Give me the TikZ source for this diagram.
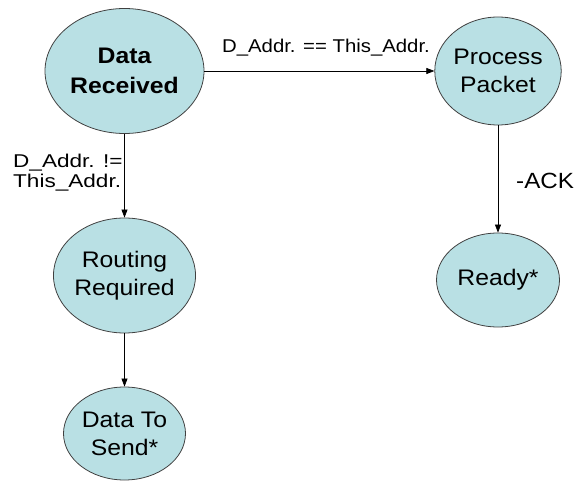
\documentclass[tikz,border=0pt]{standalone}
\usepackage{fontspec}
\setmainfont{Liberation Sans}[FakeStretch=1.1]
\newfontfamily\widefont{Liberation Sans}[FakeStretch=1.22]
\usetikzlibrary{shapes.geometric,arrows.meta}
\definecolor{statefill}{HTML}{B9E0E4}
\definecolor{stateline}{HTML}{404040}
\tikzset{
  state/.style={ellipse, draw=stateline, line width=0.8pt, fill=statefill, inner sep=0pt, align=center,
    font=\fontsize{22.5}{28}\selectfont},
  lbl/.style={inner sep=0pt, font=\fontsize{18.5}{20}\selectfont},
  conn/.style={draw=black, line width=0.7pt, -{Triangle[length=8pt,width=6pt]}}
}
\begin{document}
\begin{tikzpicture}[x=1pt,y=-1pt]
\useasboundingbox (0,0) rectangle (581,481);
\node[state, minimum width=159pt, minimum height=125pt, font=\fontsize{22.5}{30}\selectfont\bfseries] (dr) at (124.5,71) {Data\\Received};
\node[state, minimum width=122pt, minimum height=108pt] (pp) at (498,71) {Process\\Packet};
\node[state, minimum width=123pt, minimum height=94pt] (rd) at (498,280) {Ready*};
\node[state, minimum width=140pt, minimum height=115pt] (rr) at (124.5,275.5) {Routing\\Required};
\node[state, minimum width=122pt, minimum height=93pt] (ds) at (124.5,433.5) {Data To\\Send*};
\draw[conn] (dr) -- (pp);
\draw[conn] (dr) -- (rr);
\draw[conn] (rr) -- (ds);
\draw[conn] (pp) -- (rd);
\node[lbl] (l1) at (326,48) {D\_Addr. == This\_Addr.};
\node[lbl, align=left, anchor=west, font=\fontsize{18.5}{20}\widefont] (l2) at (13,172.5) {D\_Addr. !=\\This\_Addr.};
\node[lbl, anchor=west, font=\fontsize{22}{24}\selectfont] (l3) at (516,181) {-ACK};
\end{tikzpicture}
\end{document}
